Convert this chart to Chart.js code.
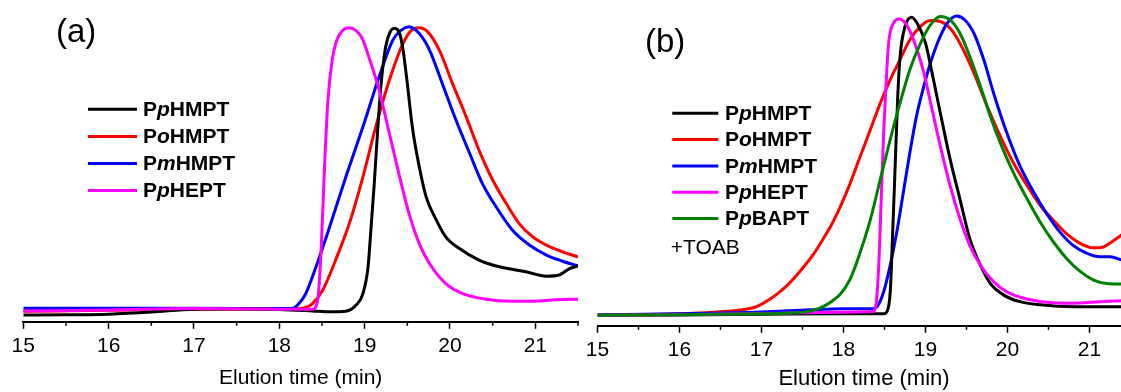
<!DOCTYPE html>
<html>
<head>
<meta charset="utf-8">
<script src="https://cdn.jsdelivr.net/npm/chart.js@4.4.1/dist/chart.umd.min.js"></script>
<style>
  html, body { margin: 0; padding: 0; background: #fff; overflow: hidden; }
  #wrap { position: relative; width: 1121px; height: 392px; overflow: hidden; }
  #boxA { position: absolute; left: 0; top: 0; }
  #boxB { position: absolute; left: 580px; top: 0; }
</style>
</head>
<body>
<div id="wrap">
  <div id="boxA"><canvas id="chartA" width="580" height="392"></canvas></div>
  <div id="boxB"><canvas id="chartB" width="553" height="392"></canvas></div>
</div>
<script>
// ---- panel (a) : elution time (min) and normalised signal ----
const namesA = ["PpHMPT", "PoHMPT", "PmHMPT", "PpHEPT"];
const colorsA = ["#000000", "#ff0000", "#0000ff", "#ff00ff"];

const tA_black = [15, 15.5, 16, 16.5, 17, 17.5, 18, 18.39, 18.59, 18.78, 18.9, 18.98, 19.04, 19.07, 19.11, 19.15, 19.19, 19.24, 19.29, 19.35, 19.41, 19.45, 19.5, 19.56, 19.64, 19.72, 19.84, 19.95, 20.11, 20.34, 20.58, 20.89, 21.13, 21.28, 21.4, 21.5];
const vA_black = [2.3, 2.4, 2.6, 3.3, 4.3, 4.4, 4.2, 3.7, 3.4, 3.6, 5.7, 9.6, 18.7, 30, 46, 64, 80, 92.4, 98, 99.8, 98, 92.4, 81, 66, 52.7, 42.5, 34.6, 28.9, 24.9, 21, 18.7, 17, 15.5, 15.9, 18.1, 19];

const tA_red = [15, 16, 17, 18, 18.2, 18.31, 18.39, 18.51, 18.66, 18.82, 18.98, 19.13, 19.29, 19.45, 19.56, 19.64, 19.74, 19.875, 20.03, 20.19, 20.34, 20.5, 20.66, 20.81, 20.97, 21.13, 21.32, 21.5];
const vA_red = [3.6, 3.9, 4.3, 4.3, 4.4, 4.9, 6.2, 10.8, 21, 33.4, 49.3, 66.3, 82.2, 94.7, 99.4, 100, 98.6, 92.4, 81, 69.7, 58.4, 48.2, 40.2, 33.4, 28.9, 26.1, 23.8, 22.1];

const tA_blue = [15, 16, 17, 18, 18.16, 18.23, 18.31, 18.43, 18.59, 18.78, 18.98, 19.17, 19.33, 19.43, 19.52, 19.64, 19.76, 19.91, 20.07, 20.23, 20.38, 20.54, 20.73, 20.93, 21.13, 21.32, 21.5];
const vA_blue = [4.6, 4.6, 4.6, 4.5, 4.6, 6.2, 9.6, 18.7, 32.3, 49.3, 66.3, 83.3, 95.8, 99.2, 100.3, 98, 92.4, 81, 68.6, 57.3, 47, 39.1, 31.2, 26.1, 22.7, 20.6, 19];

const tA_mag = [15, 16, 17, 18, 18.39, 18.45, 18.49, 18.53, 18.57, 18.62, 18.67, 18.74, 18.82, 18.9, 18.97, 19.05, 19.17, 19.29, 19.41, 19.52, 19.64, 19.76, 19.95, 20.15, 20.42, 20.73, 20.97, 21.24, 21.5];
const vA_mag = [3.7, 4.0, 4.5, 4.3, 4.3, 7.4, 24.4, 52.7, 75.4, 89, 95.5, 99, 100, 99, 96.5, 90, 78.8, 64, 49.3, 36.8, 26.6, 19.8, 13, 9.6, 7.7, 7, 7, 7.5, 7.7];

// ---- panel (b) : +TOAB ----
const namesB = ["PpHMPT", "PoHMPT", "PmHMPT", "PpHEPT", "PpBAPT"];
const colorsB = ["#000000", "#ff0000", "#0000ff", "#ff00ff", "#008000"];

const tB_black = [15, 16, 17, 18, 18.49, 18.53, 18.57, 18.6, 18.63, 18.66, 18.69, 18.75, 18.83, 18.91, 19, 19.08, 19.18, 19.3, 19.42, 19.54, 19.67, 19.79, 19.95, 20.15, 20.4, 20.8, 21.4];
const vB_black = [3.4, 3.5, 3.7, 3.9, 3.9, 4.6, 11, 30.3, 51.8, 73.2, 87.1, 96.8, 99.8, 97.3, 91.4, 81.8, 68.9, 53.9, 41, 28.2, 19.6, 13.7, 10, 7.8, 6.8, 6.2, 6.2];

const tB_red = [15, 16, 16.41, 16.74, 16.94, 17.1, 17.2, 17.31, 17.45, 17.63, 17.75, 17.87, 17.97, 18.08, 18.2, 18.33, 18.45, 18.57, 18.69, 18.81, 18.94, 19.06, 19.18, 19.3, 19.42, 19.59, 19.75, 19.91, 20.07, 20.24, 20.4, 20.56, 20.72, 20.89, 21.05, 21.17, 21.27, 21.4];
const vB_red = [3.4, 3.9, 4.4, 5.1, 6.2, 8.6, 10.5, 13, 17, 23, 28, 33.5, 39, 46, 54.5, 63.6, 72.1, 79.6, 86.1, 92.5, 96.8, 98.7, 98.4, 96.2, 91.4, 81.8, 71.1, 61.4, 52.8, 45.3, 38.9, 34.1, 29.8, 26.6, 25.2, 25.5, 27.1, 29.5];

const tB_blue = [15, 16, 17, 17.6, 18, 18.35, 18.41, 18.49, 18.57, 18.65, 18.73, 18.81, 18.89, 18.98, 19.06, 19.18, 19.28, 19.38, 19.48, 19.59, 19.71, 19.83, 19.99, 20.15, 20.32, 20.48, 20.64, 20.8, 20.97, 21.13, 21.25, 21.4];
const vB_blue = [3.5, 3.9, 4.5, 5.2, 5.5, 5.5, 6.2, 11, 19.6, 30.3, 43.2, 56.1, 67.8, 77.5, 85, 93.6, 98.4, 100.2, 98.9, 94.6, 86.1, 75.3, 62.5, 51.8, 43.2, 36.2, 30.3, 26, 23.4, 22.3, 22.3, 21.2];

const tB_mag = [15, 16, 17, 18, 18.36, 18.39, 18.43, 18.46, 18.49, 18.52, 18.55, 18.61, 18.68, 18.77, 18.87, 18.98, 19.08, 19.18, 19.3, 19.42, 19.54, 19.67, 19.83, 19.99, 20.2, 20.48, 20.8, 21.13, 21.4];
const vB_mag = [3.4, 3.6, 4.0, 4.4, 4.6, 5.7, 19.6, 41, 62.5, 78.6, 91.4, 97.9, 99.2, 97.3, 91.4, 81.8, 70, 58.2, 45.3, 34.6, 26, 19.6, 14.3, 11, 8.9, 7.6, 7.3, 7.8, 8.1];

const tB_green = [15, 16, 17, 17.43, 17.63, 17.75, 17.85, 17.96, 18.08, 18.2, 18.33, 18.45, 18.57, 18.69, 18.81, 18.94, 19.06, 19.18, 19.3, 19.42, 19.54, 19.67, 19.79, 19.91, 20.07, 20.24, 20.4, 20.56, 20.72, 20.89, 21.05, 21.21, 21.4];
const vB_green = [3.4, 3.6, 3.9, 4.2, 5.0, 6.2, 7.8, 10.2, 15, 23.5, 34.6, 47.5, 60.3, 72.1, 82.9, 91.4, 97.3, 100, 98.9, 94.6, 87.1, 77.5, 67.8, 59.3, 49.6, 41, 33.5, 27.1, 21.8, 17.5, 14.8, 13.7, 13.5];

const xTicks = [15, 16, 17, 18, 19, 20, 21];

Chart.defaults.font.family = "'Liberation Sans', Arial, sans-serif";
Chart.defaults.color = "#000";

function pts(ts, vs) {
  return ts.map((t, i) => ({ x: t, y: vs[i] }));
}

function series(label, color, ts, vs, order) {
  return {
    label: label,
    data: pts(ts, vs),
    borderColor: color,
    backgroundColor: color,
    borderWidth: 3,
    pointRadius: 0,
    cubicInterpolationMode: "monotone",
    order: order
  };
}

// minor ticks, panel tag and the legend (mixed bold / italic text)
const decor = {
  id: "decor",
  afterDraw(chart, args, o) {
    const ctx = chart.ctx;
    const xs = chart.scales.x;
    ctx.save();
    ctx.strokeStyle = "#000";
    ctx.lineWidth = 1.5;
    for (let t = xs.min + 0.5; t <= xs.max + 1e-6; t += 1) {
      const px = xs.getPixelForValue(t);
      ctx.beginPath();
      ctx.moveTo(px, xs.top);
      ctx.lineTo(px, xs.top + 4);
      ctx.stroke();
    }
    ctx.fillStyle = "#000";
    ctx.textBaseline = "middle";
    ctx.font = "33px 'Liberation Sans', Arial, sans-serif";
    ctx.fillText(o.tag, o.tagX, o.tagY);

    o.names.forEach((name, i) => {
      const y = o.legY + i * o.legGap;
      ctx.strokeStyle = o.colors[i];
      ctx.lineWidth = 3;
      ctx.beginPath();
      ctx.moveTo(o.lineX0, y);
      ctx.lineTo(o.lineX1, y);
      ctx.stroke();
      let x = o.textX;
      const parts = [[name[0], "bold"], [name[1], "italic bold"], [name.slice(2), "bold"]];
      parts.forEach(p => {
        ctx.font = p[1] + " 21px 'Liberation Sans', Arial, sans-serif";
        ctx.fillText(p[0], x, y + 1);
        x += ctx.measureText(p[0]).width;
      });
    });
    if (o.note) {
      ctx.font = "21px 'Liberation Sans', Arial, sans-serif";
      ctx.fillText(o.note, o.noteX, o.noteY);
    }
    ctx.restore();
  }
};

function makeOptions(cfg) {
  return {
    responsive: false,
    animation: false,
    layout: { padding: cfg.pad },
    plugins: {
      legend: { display: false },
      tooltip: { enabled: false },
      decor: cfg.decor
    },
    scales: {
      x: {
        type: "linear",
        min: 15,
        max: 21.5,
        border: { display: true, color: "#000", width: 2 },
        grid: { drawOnChartArea: false, drawTicks: true, tickLength: 7, tickColor: "#000", tickWidth: 1.5 },
        ticks: {
          stepSize: 1,
          includeBounds: false,
          autoSkip: false,
          maxRotation: 0,
          padding: cfg.tickPad,
          font: { size: 21 },
          callback: v => (xTicks.includes(v) ? String(v) : "")
        },
        title: {
          display: true,
          text: "Elution time (min)",
          font: { size: cfg.titleSize, lineHeight: 1 },
          padding: cfg.titlePad
        }
      },
      y: { display: false, min: 0, max: cfg.yMax }
    }
  };
}

new Chart(document.getElementById("chartA"), {
  type: "line",
  data: {
    datasets: [
      series(namesA[0], colorsA[0], tA_black, vA_black, 1),
      series(namesA[1], colorsA[1], tA_red, vA_red, 3),
      series(namesA[2], colorsA[2], tA_blue, vA_blue, 2),
      series(namesA[3], colorsA[3], tA_mag, vA_mag, 0)
    ]
  },
  options: makeOptions({
    pad: { left: 23.3, right: 2, top: 4.2, bottom: 0 },
    tickPad: 5,
    titleSize: 21,
    titlePad: { top: 4, bottom: 3 },
    yMax: 108,
    decor: {
      tag: "(a)", tagX: 56, tagY: 33,
      names: namesA, colors: colorsA,
      lineX0: 88, lineX1: 137, textX: 143, legY: 109.3, legGap: 27.1
    }
  }),
  plugins: [decor]
});

new Chart(document.getElementById("chartB"), {
  type: "line",
  data: {
    datasets: [
      series(namesB[0], colorsB[0], tB_black, vB_black, 2),
      series(namesB[1], colorsB[1], tB_red, vB_red, 4),
      series(namesB[2], colorsB[2], tB_blue, vB_blue, 3),
      series(namesB[3], colorsB[3], tB_mag, vB_mag, 1),
      series(namesB[4], colorsB[4], tB_green, vB_green, 0)
    ]
  },
  options: makeOptions({
    pad: { left: 17.5, right: 2.5, top: 4.2, bottom: 0 },
    tickPad: 5,
    titleSize: 22,
    titlePad: { top: 0, bottom: 2 },
    yMax: 104,
    decor: {
      tag: "(b)", tagX: 65, tagY: 43,
      names: namesB, colors: colorsB,
      lineX0: 92.3, lineX1: 138.3, textX: 145, legY: 113.3, legGap: 26.3,
      note: "+TOAB", noteX: 90.7, noteY: 248.3
    }
  }),
  plugins: [decor]
});
</script>
</body>
</html>
